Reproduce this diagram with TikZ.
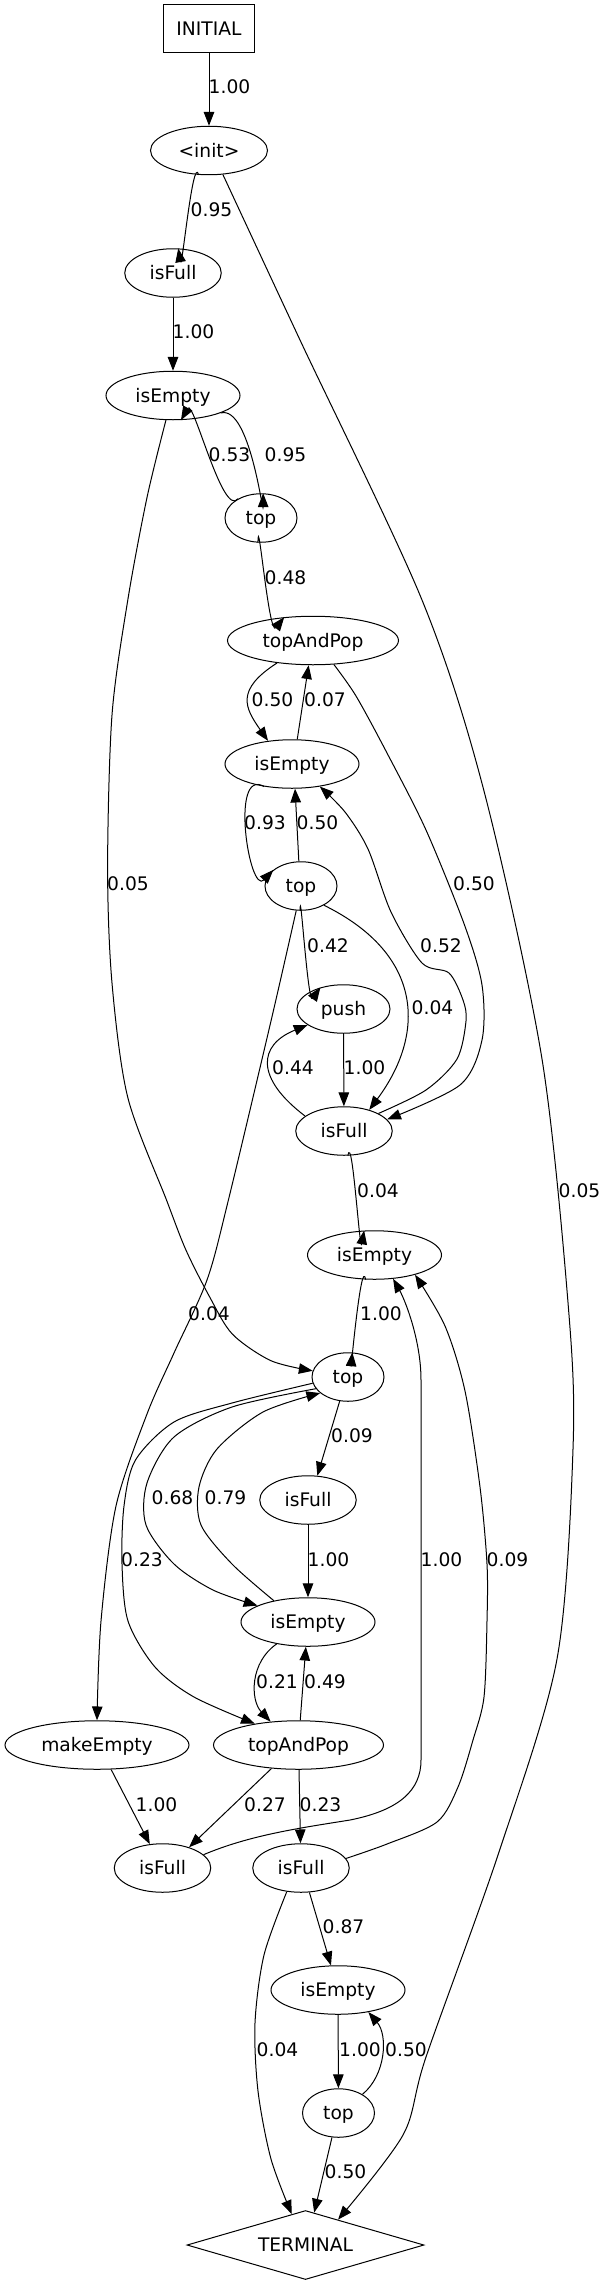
\documentclass[tikz,border=0pt]{standalone}
\usepackage{fontspec}
\setmainfont{DejaVu Sans}
\usetikzlibrary{shapes.geometric,arrows.meta}
\begin{document}
\begin{tikzpicture}[x=1pt,y=-1pt,
  every node/.style={font=\fontsize{18.67pt}{22pt}\selectfont, text height=16.8pt, text depth=3.2pt},
  st/.style={ellipse, draw, line width=1pt, minimum height=48.5pt, inner sep=0pt},
  initbox/.style={rectangle, draw, line width=1pt, minimum width=91pt, minimum height=48pt, inner sep=0pt},
  termd/.style={diamond, draw, line width=1pt, aspect=3.43, minimum width=237pt, minimum height=69pt, inner sep=0pt},
  lbl/.style={inner sep=0pt},
  conn/.style={draw, line width=1pt, -{Triangle[length=13.8pt,width=10.5pt]}}]
\useasboundingbox[fill=white] (0,0) rectangle (607,2285);

% nodes
\node[initbox] (INITIAL) at (209,29) {INITIAL};
\node[st, minimum width=117pt] (init) at (209,150.5) {\textless init\textgreater};
\node[st, minimum width=96.5pt] (isFull1) at (173,273) {isFull};
\node[st, minimum width=134pt] (isEmpty1) at (173,395.5) {isEmpty};
\node[st, minimum width=72pt] (top1) at (261,518) {top};
\node[st, minimum width=171pt] (tap1) at (313,640.5) {topAndPop};
\node[st, minimum width=134pt] (isEmpty2) at (292,764) {isEmpty};
\node[st, minimum width=72pt] (top2) at (301,886) {top};
\node[st, minimum width=93pt] (push) at (343.5,1009) {push};
\node[st, minimum width=96.5pt] (isFull2) at (344,1131) {isFull};
\node[st, minimum width=134pt] (isEmpty3) at (374.5,1255) {isEmpty};
\node[st, minimum width=72pt] (top3) at (348,1377) {top};
\node[st, minimum width=96.5pt] (isFull3) at (308,1500) {isFull};
\node[st, minimum width=134pt] (isEmpty4) at (308,1622) {isEmpty};
\node[st, minimum width=184pt] (makeEmpty) at (97,1745) {makeEmpty};
\node[st, minimum width=170pt] (tap2) at (298.5,1745) {topAndPop};
\node[st, minimum width=96.5pt] (isFull4) at (162.5,1868) {isFull};
\node[st, minimum width=96.5pt] (isFull5) at (301,1868) {isFull};
\node[st, minimum width=134pt] (isEmpty5) at (338,1990) {isEmpty};
\node[st, minimum width=72pt] (top4) at (338.5,2113) {top};
\node[termd] (TERMINAL) at (305.5,2245) {TERMINAL};

% edges
\draw[conn] (INITIAL) -- (init);
\draw[conn] (init.247) .. controls +(-105:22) and +(80:22) .. (isFull1.78);
\draw[conn] plot[smooth] coordinates {(init.-60) (300,340) (422,600) (484,791) (542,1059) (569,1315) (573,1449) (557,1659) (499,1852) (426,2057) (403,2135) (TERMINAL.38)};
\draw[conn] (isFull1) -- (isEmpty1);
\draw[conn] (isEmpty1.-20) .. controls +(-15:30) and +(90:25) .. (top1.85);
\draw[conn] (top1.140) .. controls +(128:25) and +(-60:25) .. (isEmpty1.-72);
\draw[conn] (top1.263) .. controls +(-90:35) and +(128:25) .. (tap1.141);
\draw[conn] (tap1.-148) .. controls (235,690) and (245,708) .. (isEmpty2.136);
\draw[conn] (isEmpty2.78) -- (tap1.-100);
\draw[conn] plot[smooth] coordinates {(tap1.-49) (356,696) (387,753) (426,830) (464.5,925) (482,985) (482,1040) (460,1085) (isFull2.15)};
\draw[conn] (isEmpty2.-141.5) .. controls +(-150:40) and +(133:35) .. (top2.150);
\draw[conn] (top2.95) -- (isEmpty2.-83);
\draw[conn] plot[smooth] coordinates {(isFull2.27) (426,1090) (457,1059) (466,1021) (463,1000) (449,973) (422,963) (391,912) (368,849) (345,812) (isEmpty2.-39)};
\draw[conn] (top2.-92) .. controls +(-90:30) and +(125:22) .. (push.137);
\draw[conn] (top2.-40) .. controls (425,955) and (425,1035) .. (isFull2.40);
\draw[conn] (push) -- (isFull2);
\draw[conn] (isFull2.159) .. controls (255,1078) and (258,1045) .. (push.-156);
\draw[conn] (isFull2.-81.5) .. controls +(-80:25) and +(100:25) .. (isEmpty3.113.7);
\draw[conn] (isEmpty3.-110) .. controls +(-100:25) and +(95:25) .. (top3.80.5);
\draw[conn] plot[smooth] coordinates {(isEmpty1.-106) (147,497.5) (127.8,600) (112,715) (107.6,868) (112,983) (127.8,1097.5) (166.5,1200) (185.8,1249.7) (209,1295.7) (232.3,1334) (271,1360.7) (top3.170)};
\draw[conn] plot[smooth] coordinates {(top2.-101) (271,1021) (228.4,1200) (207,1280) (174,1353) (147,1414) (116,1506) (101,1621) (makeEmpty.north)};
\draw[conn] (top3.-109) -- (isFull3.69);
\draw[conn] plot[smooth] coordinates {(top3.-160) (232,1407) (174,1437) (147,1483) (146,1525) (174,1564) (213,1590) (isEmpty4.162.5)};
\draw[conn] plot[smooth] coordinates {(isEmpty4.148) (232,1564) (201,1525) (199,1487) (217,1449) (263,1412) (top3.-150)};
\draw[conn] plot[smooth] coordinates {(top3.-170) (232,1403) (174,1422) (135.5,1460) (124,1506) (122,1564) (128,1621) (155,1667) (194,1697) (tap2.154)};
\draw[conn] (isFull3) -- (isEmpty4);
\draw[conn] (isEmpty4.-145.5) .. controls (250,1662) and (250,1700) .. (tap2.140.2);
\draw[conn] (tap2.86.5) -- (isEmpty4.-95);
\draw[conn] (makeEmpty.-60) -- (isFull4.118);
\draw[conn] (tap2.-139) -- (isFull4.38);
\draw[conn] (tap2) -- (isFull5);
\draw[conn] (isFull4.18) .. controls (250,1835) and (300,1828) .. (350,1820) .. controls (400,1810) and (421,1790) .. (421,1760) -- (421,1380) .. controls (421,1340) and (405,1300) .. (isEmpty3.-52);
\draw[conn] plot[smooth] coordinates {(isFull5.12) (387,1844) (437,1822) (458,1787) (473,1740) (484,1697) (487,1621) (487,1564) (480,1487) (465,1391) (445,1326) (isEmpty3.-26)};
\draw[conn] (isFull5.-71.5) -- (isEmpty5.106);
\draw[conn] plot[smooth] coordinates {(isFull5.-121) (264,1955) (255,2023) (258,2091) (271,2159) (TERMINAL.114)};
\draw[conn] (isEmpty5) -- (top4);
\draw[conn] (top4.38) .. controls (386,2075) and (388,2035) .. (isEmpty5.-36);
\draw[conn] (top4.-105) -- (TERMINAL.75);

% labels
\node[lbl] (l1) at (229.5,87) {1.00};
\node[lbl] (l2) at (211.5,210) {0.95};
\node[lbl] (l3) at (193.5,332) {1.00};
\node[lbl] (l4) at (229.5,455) {0.53};
\node[lbl] (l5) at (285.5,455) {0.95};
\node[lbl] (l6) at (285.5,578) {0.48};
\node[lbl] (l7) at (272.5,700) {0.50};
\node[lbl] (l8) at (325,700) {0.07};
\node[lbl] (l9) at (265,823) {0.93};
\node[lbl] (l10) at (317.5,823) {0.50};
\node[lbl] (l11) at (128,884) {0.05};
\node[lbl] (l12) at (474,884) {0.50};
\node[lbl] (l13) at (328,946) {0.42};
\node[lbl] (l14) at (441,946) {0.52};
\node[lbl] (l15) at (432.5,1008) {0.04};
\node[lbl] (l16) at (293,1068) {0.44};
\node[lbl] (l17) at (364.5,1068) {1.00};
\node[lbl] (l18) at (378,1191) {0.04};
\node[lbl] (l19) at (579.5,1191) {0.05};
\node[lbl] (l20) at (209,1314) {0.04};
\node[lbl] (l21) at (381,1314) {1.00};
\node[lbl] (l22) at (352,1436) {0.09};
\node[lbl] (l23) at (172.5,1498) {0.68};
\node[lbl] (l24) at (225.5,1498) {0.79};
\node[lbl] (l25) at (142,1560) {0.23};
\node[lbl] (l26) at (328.5,1560) {1.00};
\node[lbl] (l27) at (441.5,1560) {1.00};
\node[lbl] (l28) at (507.5,1560) {0.09};
\node[lbl] (l29) at (277,1682) {0.21};
\node[lbl] (l30) at (325,1682) {0.49};
\node[lbl] (l31) at (156.5,1805) {1.00};
\node[lbl] (l32) at (265,1805) {0.27};
\node[lbl] (l33) at (320.5,1805) {0.23};
\node[lbl] (l34) at (343.5,1927) {0.87};
\node[lbl] (l35) at (277.5,2050) {0.04};
\node[lbl] (l36) at (360,2050) {1.00};
\node[lbl] (l37) at (406,2050) {0.50};
\node[lbl] (l38) at (345.5,2172) {0.50};
\end{tikzpicture}
\end{document}
